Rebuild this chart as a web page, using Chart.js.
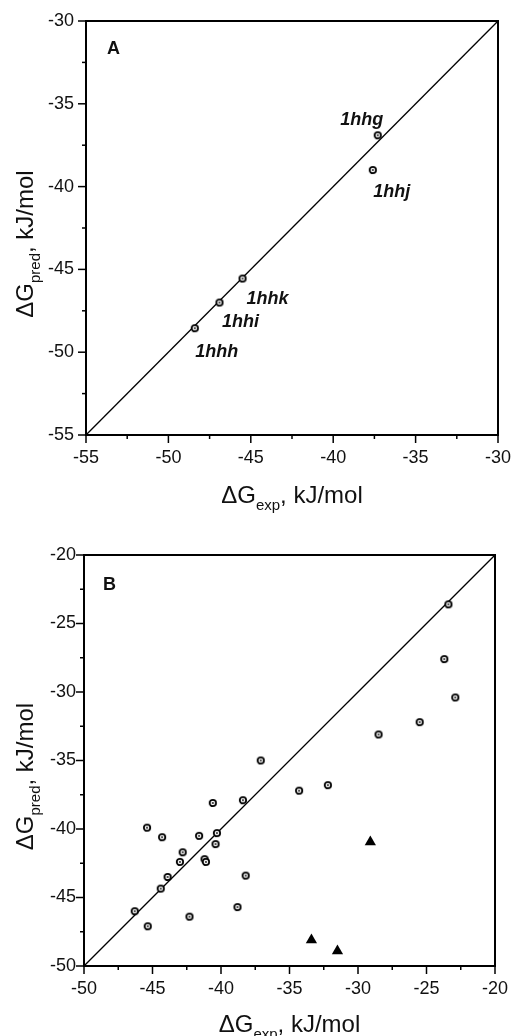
<!DOCTYPE html>
<html lang="en">
<head>
<meta charset="UTF-8">
<title>ΔG pred vs ΔG exp</title>
<script src="https://cdn.jsdelivr.net/npm/chart.js"></script>
<style>
  body { margin: 0; background: #fff; }
  .painel { position: absolute; left: 0; width: 511px; }
</style>
</head>
<body>
<div class="painel" style="top:0;height:520px"><canvas id="graficoA" width="511" height="520"></canvas></div>
<div class="painel" style="top:520px;height:516px"><canvas id="graficoB" width="511" height="516"></canvas></div>
<script>
// painel A
var nomesA = ['1hhg', '1hhj', '1hhk', '1hhi', '1hhh'];
var expA = [-37.3, -37.6, -45.5, -46.9, -48.4];
var predA = [-36.9, -39.0, -45.55, -47.0, -48.55];
var limitesA = [-55, -30];

// painel B - circulos
var expB = [-23.4, -23.7, -22.9, -25.5, -28.5, -37.1, -34.3, -32.2, -40.6, -38.4,
            -45.4, -44.3, -41.6, -40.3, -40.4, -42.8, -43.0, -41.2, -41.1, -43.9,
            -38.2, -44.4, -46.3, -45.35, -42.3, -38.8];
var predB = [-23.6, -27.6, -30.4, -32.2, -33.1, -35.0, -37.2, -36.8, -38.1, -37.9,
             -39.9, -40.6, -40.5, -40.3, -41.1, -41.7, -42.4, -42.2, -42.4, -43.5,
             -43.4, -44.35, -46.0, -47.1, -46.4, -45.7];
// painel B - triangulos
var expTri = [-29.1, -33.4, -31.5];
var predTri = [-40.95, -48.1, -48.9];
var limitesB = [-50, -20];

Chart.defaults.font.family = "'Liberation Sans', Arial, sans-serif";
Chart.defaults.color = '#111';

// marcador: circulo com ponto central
var marcador = document.createElement('canvas');
marcador.width = 10; marcador.height = 10;
var mc = marcador.getContext('2d');
mc.beginPath(); mc.arc(5, 5, 3.2, 0, Math.PI * 2);
mc.fillStyle = '#fff'; mc.fill();
mc.lineWidth = 1.8; mc.strokeStyle = '#000'; mc.stroke();
mc.beginPath(); mc.arc(5, 5, 0.9, 0, Math.PI * 2);
mc.fillStyle = '#000'; mc.fill();

function pares(xs, ys) {
  return xs.map(function (v, i) { return { x: v, y: ys[i] }; });
}

function escreveTitulo(ctx, partes, cx, cy, rot) {
  ctx.save();
  ctx.translate(cx, cy);
  if (rot) ctx.rotate(-Math.PI / 2);
  var total = 0;
  partes.forEach(function (p) {
    ctx.font = p[1] + "px 'Liberation Sans', Arial, sans-serif";
    total += ctx.measureText(p[0]).width;
  });
  var pos = -total / 2;
  ctx.fillStyle = '#111';
  ctx.textBaseline = 'alphabetic';
  partes.forEach(function (p) {
    ctx.font = p[1] + "px 'Liberation Sans', Arial, sans-serif";
    ctx.fillText(p[0], pos, p[2]);
    pos += ctx.measureText(p[0]).width;
  });
  ctx.restore();
}

var moldura = {
  id: 'moldura',
  afterDraw: function (chart, args, o) {
    var ctx = chart.ctx, a = chart.chartArea;
    var x = chart.scales.x, y = chart.scales.y;
    ctx.save();
    ctx.strokeStyle = '#000';
    ctx.lineWidth = 2;
    ctx.strokeRect(a.left, a.top, a.right - a.left, a.bottom - a.top);
    ctx.lineWidth = 1.5;
    var v, px, maior;
    for (v = x.min; v <= x.max + 1e-9; v += 2.5) {
      px = x.getPixelForValue(v);
      maior = Math.abs(v % 5) < 1e-6;
      ctx.beginPath(); ctx.moveTo(px, a.bottom); ctx.lineTo(px, a.bottom + (maior ? 8 : 4)); ctx.stroke();
    }
    for (v = y.min; v <= y.max + 1e-9; v += 2.5) {
      px = y.getPixelForValue(v);
      maior = Math.abs(v % 5) < 1e-6;
      ctx.beginPath(); ctx.moveTo(a.left, px); ctx.lineTo(a.left - (maior ? 8 : 4), px); ctx.stroke();
    }
    // letra do painel
    ctx.fillStyle = '#111';
    ctx.font = "bold 18px 'Liberation Sans', Arial, sans-serif";
    ctx.textBaseline = 'alphabetic';
    ctx.fillText(o.letra, a.left + o.letraPos[0], a.top + o.letraPos[1]);
    ctx.restore();

    var meioX = (a.left + a.right) / 2, meioY = (a.top + a.bottom) / 2;
    escreveTitulo(ctx, [['ΔG', 24, 0], ['exp', 15, 7], [', kJ/mol', 24, 0]], meioX, a.bottom + o.tituloX, false);
    escreveTitulo(ctx, [['ΔG', 24, 0], ['pred', 15, 7], [', kJ/mol', 24, 0]], o.tituloY, meioY + 16, true);

    // rotulos dos pontos
    if (o.nomes) {
      ctx.save();
      ctx.fillStyle = '#111';
      ctx.font = "italic bold 18px 'Liberation Sans', Arial, sans-serif";
      ctx.textAlign = 'center';
      ctx.textBaseline = 'alphabetic';
      var meta = chart.getDatasetMeta(0);
      o.nomes.forEach(function (n, i) {
        var el = meta.data[i];
        ctx.fillText(n, el.x + o.desloc[i][0], el.y + o.desloc[i][1]);
      });
      ctx.restore();
    }
  }
};

function eixos(lim, larguraY, alturaX, padY) {
  return {
    x: {
      type: 'linear', min: lim[0], max: lim[1],
      grid: { display: false, drawTicks: false },
      border: { display: false },
      ticks: { stepSize: 5, padding: 12, font: { size: 18 }, color: '#111' },
      afterFit: function (s) { s.height = alturaX; s.paddingLeft = 0; s.paddingRight = 0; }
    },
    y: {
      type: 'linear', min: lim[0], max: lim[1],
      grid: { display: false, drawTicks: false },
      border: { display: false },
      ticks: { stepSize: 5, padding: padY, font: { size: 18 }, color: '#111' },
      afterFit: function (s) { s.width = larguraY; s.paddingTop = 0; s.paddingBottom = 0; }
    }
  };
}

new Chart(document.getElementById('graficoA'), {
  type: 'scatter',
  data: {
    datasets: [
      { data: pares(expA, predA), pointStyle: marcador, order: 1 },
      { data: pares(limitesA, limitesA), showLine: true, borderColor: '#000', borderWidth: 1.3, pointRadius: 0, order: 2 }
    ]
  },
  options: {
    responsive: false,
    animation: false,
    layout: { padding: { left: 0, top: 21, right: 13, bottom: 0 } },
    scales: eixos(limitesA, 86, 85, 12),
    plugins: {
      legend: { display: false },
      tooltip: { enabled: false },
      moldura: {
        letra: 'A', letraPos: [21, 33], tituloX: 68, tituloY: 33,
        nomes: nomesA,
        desloc: [[-16, -10], [19, 27], [25, 25], [21, 24.5], [22, 29]]
      }
    }
  },
  plugins: [moldura]
});

new Chart(document.getElementById('graficoB'), {
  type: 'scatter',
  data: {
    datasets: [
      { data: pares(expB, predB), pointStyle: marcador, order: 1 },
      { data: pares(expTri, predTri), pointStyle: 'triangle', radius: 6.5, backgroundColor: '#000', borderColor: '#000', borderWidth: 0, order: 1 },
      { data: pares(limitesB, limitesB), showLine: true, borderColor: '#000', borderWidth: 1.3, pointRadius: 0, order: 2 }
    ]
  },
  options: {
    responsive: false,
    animation: false,
    layout: { padding: { left: 0, top: 35, right: 16, bottom: 0 } },
    scales: eixos(limitesB, 84, 70, 8),
    plugins: {
      legend: { display: false },
      tooltip: { enabled: false },
      moldura: { letra: 'B', letraPos: [19, 35], tituloX: 66, tituloY: 33 }
    }
  },
  plugins: [moldura]
});
</script>
</body>
</html>
